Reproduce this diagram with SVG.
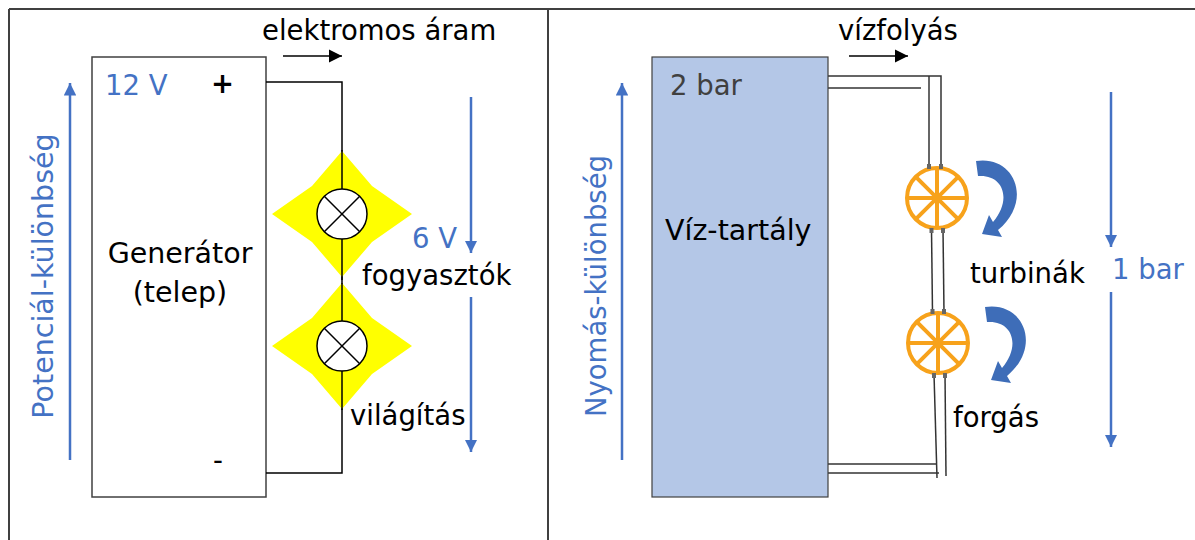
<svg xmlns="http://www.w3.org/2000/svg" width="1195" height="540" viewBox="0 0 1195 540">
<style>
text{font-family:"DejaVu Sans","Open Sans",sans-serif;font-size:27.5px;fill:#000}
.big{font-size:28.5px}
.blue{fill:#4472c4}
.gray{fill:#404040}
.frame{stroke:#404040;stroke-width:2;fill:none}
.box{stroke:#404040;stroke-width:1.5;fill:none}
.wire{stroke:#000;stroke-width:1.5;fill:none}
.barrow{stroke:#4472c4;stroke-width:2.5;fill:none}
.pipe{stroke:#333;stroke-width:1.5;fill:none}
.turb{stroke:#f7a21b;stroke-width:4;fill:none}
.lamp{fill:#fff;stroke:#000;stroke-width:1.5}
.x{stroke:#000;stroke-width:1.5}
.star{fill:#ffff00}
.curv{fill:#3e6db8}
</style>
<defs>
<marker id="bh" viewBox="0 0 10 10" refX="10" refY="5" markerWidth="5" markerHeight="5" markerUnits="strokeWidth" orient="auto"><path d="M0,0 L10,5 L0,10 Z" fill="#4472c4"/></marker>
<marker id="kh" viewBox="0 0 10 10" refX="10" refY="5" markerWidth="9" markerHeight="9" markerUnits="strokeWidth" orient="auto"><path d="M0,0 L10,5 L0,10 Z" fill="#000"/></marker>
<path id="starshape" d="M0,-63 L30,-28 L70,0 L30,28 L0,63 L-30,28 L-70,0 L-30,-28 Z"/>
<g id="turbine">
<circle r="30" class="turb"/>
<line x1="-30" y1="0" x2="30" y2="0" class="turb"/>
<line x1="0" y1="-30" x2="0" y2="30" class="turb"/>
<line x1="-21.2" y1="-21.2" x2="21.2" y2="21.2" class="turb"/>
<line x1="-21.2" y1="21.2" x2="21.2" y2="-21.2" class="turb"/>
</g>
<path id="curved" d="M976,161 C1014,155 1034,200 998,230 L1002,237 L982,234 L989,215 L993,222 C1012,200 1004,174 978,176 Z"/>
</defs>
<rect width="1195" height="540" fill="#fff"/>
<g id="frame">
<line x1="9" y1="9" x2="1195" y2="9" class="frame"/>
<line x1="9" y1="9" x2="9" y2="540" class="frame"/>
<line x1="548" y1="9" x2="548" y2="540" class="frame"/>
</g>

<g id="generator">
<rect x="92" y="57" width="174" height="440" class="box"/>
<text x="105" y="95" class="blue">12 V</text>
<text x="211" y="93" font-weight="bold">+</text>
<text x="213" y="470">-</text>
<text x="180" y="263" text-anchor="middle" class="big">Generátor</text>
<text x="180" y="302" text-anchor="middle" class="big">(telep)</text>
</g>

<g id="connectors">
<path d="M266,82 H342 V473 H266" class="wire"/>
<line x1="283" y1="56" x2="342" y2="56" class="wire" marker-end="url(#kh)"/>
<line x1="70" y1="460" x2="70" y2="83" class="barrow" marker-end="url(#bh)"/>
<line x1="471" y1="97" x2="471" y2="253" class="barrow" marker-end="url(#bh)"/>
<line x1="471" y1="297" x2="471" y2="452" class="barrow" marker-end="url(#bh)"/>
<line x1="849" y1="56" x2="908" y2="56" class="wire" marker-end="url(#kh)"/>
<line x1="622" y1="460" x2="622" y2="83" class="barrow" marker-end="url(#bh)"/>
<line x1="1111" y1="92" x2="1111" y2="247" class="barrow" marker-end="url(#bh)"/>
<line x1="1111" y1="292" x2="1111" y2="447" class="barrow" marker-end="url(#bh)"/>
<g id="pipes">
<path d="M828,76 H941 V167" class="pipe"/>
<path d="M828,88 H921" class="pipe"/>
<path d="M929,76 V167" class="pipe"/>
<path d="M931.5,229 L932.5,312" class="pipe"/>
<path d="M943,229 L944,312" class="pipe"/>
<path d="M934,374 L937,478" class="pipe"/>
<path d="M945,374 L946,476" class="pipe"/>
<path d="M828,464 H937" class="pipe"/>
<path d="M828,473 H939" class="pipe"/>
</g>
</g>

<g id="lamp1">
<use href="#starshape" x="342" y="214" class="star"/>
<line x1="342" y1="150" x2="342" y2="280" class="wire"/>
<circle cx="342" cy="214" r="25" class="lamp"/>
<line x1="324.3" y1="196.3" x2="359.7" y2="231.7" class="x"/>
<line x1="324.3" y1="231.7" x2="359.7" y2="196.3" class="x"/>
</g>
<g id="lamp2">
<use href="#starshape" x="342" y="346" class="star"/>
<line x1="342" y1="283" x2="342" y2="410" class="wire"/>
<circle cx="342" cy="346" r="25" class="lamp"/>
<line x1="324.3" y1="328.3" x2="359.7" y2="363.7" class="x"/>
<line x1="324.3" y1="363.7" x2="359.7" y2="328.3" class="x"/>
</g>

<g id="labels-left">
<text x="262" y="40">elektromos áram</text>
<text x="412" y="248" class="blue">6 V</text>
<text x="362" y="285">fogyasztók</text>
<text x="350" y="425">világítás</text>
<text transform="translate(53,276) rotate(-90)" text-anchor="middle" class="blue big">Potenciál-különbség</text>
</g>

<g id="tank">
<rect x="652" y="57" width="176" height="440" fill="#b4c7e7" stroke="#404040" stroke-width="1.2"/>
<text x="670" y="95" class="gray">2 bar</text>
<text x="665" y="240" class="big">Víz-tartály</text>
</g>

<g id="turbine1">
<use href="#turbine" x="937" y="198"/>
<rect x="927" y="164" width="4" height="5" fill="#666"/>
<rect x="939" y="164" width="4" height="5" fill="#666"/>
<rect x="929.5" y="228" width="4" height="5" fill="#666"/>
<rect x="941" y="228" width="4" height="5" fill="#666"/>
<use href="#curved" class="curv"/>
</g>
<g id="turbine2">
<use href="#turbine" x="938" y="343"/>
<rect x="930.5" y="309" width="4" height="5" fill="#666"/>
<rect x="942" y="309" width="4" height="5" fill="#666"/>
<rect x="932" y="373" width="4" height="5" fill="#666"/>
<rect x="943" y="373" width="4" height="5" fill="#666"/>
<use href="#curved" class="curv" transform="translate(9,146)"/>
</g>

<g id="labels-right">
<text x="838" y="40">vízfolyás</text>
<text x="970" y="283">turbinák</text>
<text x="1112" y="279" class="blue">1 bar</text>
<text x="953" y="427">forgás</text>
<text transform="translate(606,286) rotate(-90)" text-anchor="middle" class="blue">Nyomás-különbség</text>
</g>
</svg>
